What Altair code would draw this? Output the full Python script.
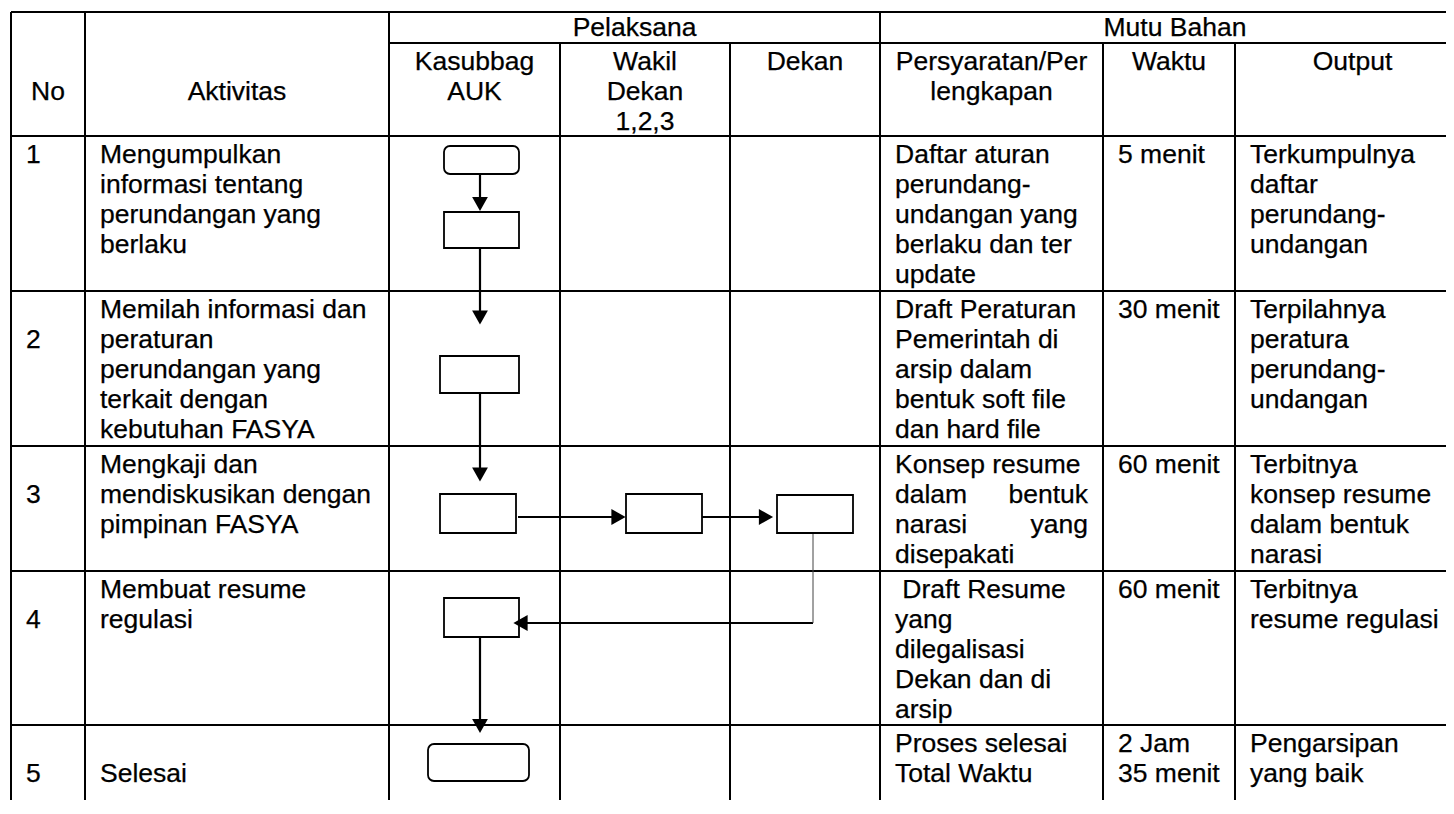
import altair as alt
import pandas as pd

# ------------------------------------------------------------------ content
header_top = ["Pelaksana", "Mutu Bahan"]
header_cols = [
    ["No"], ["Aktivitas"], ["Kasubbag", "AUK"], ["Wakil", "Dekan", "1,2,3"],
    ["Dekan"], ["Persyaratan/Per", "lengkapan"], ["Waktu"], ["Output"],
]
nomor = ["1", "2", "3", "4", "5"]
aktivitas = [
    ["Mengumpulkan", "informasi tentang", "perundangan yang", "berlaku"],
    ["Memilah informasi dan", "peraturan", "perundangan yang", "terkait dengan", "kebutuhan FASYA"],
    ["Mengkaji dan", "mendiskusikan dengan", "pimpinan FASYA"],
    ["Membuat resume", "regulasi"],
    ["", "Selesai"],
]
persyaratan = [
    ["Daftar aturan", "perundang-", "undangan yang", "berlaku dan ter", "update"],
    ["Draft Peraturan", "Pemerintah di", "arsip dalam", "bentuk soft file", "dan hard file"],
    ["Konsep resume", "dalam bentuk", "narasi yang", "disepakati"],
    ["\u200b\u00a0Draft Resume", "yang", "dilegalisasi", "Dekan dan di", "arsip"],
    ["Proses selesai", "Total Waktu"],
]
justified = [(2, 1), (2, 2)]          # (row, line) of justified lines in Persyaratan
waktu = [["5 menit"], ["30 menit"], ["60 menit"], ["60 menit"], ["2 Jam", "35 menit"]]
output = [
    ["Terkumpulnya", "daftar", "perundang-", "undangan"],
    ["Terpilahnya", "peratura", "perundang-", "undangan"],
    ["Terbitnya", "konsep resume", "dalam bentuk", "narasi"],
    ["Terbitnya", "resume regulasi"],
    ["Pengarsipan", "yang baik"],
]
nomor_line = [0, 1, 1, 1, 1]

# flowchart: boxes (x0, x1, y0, y1, rounded), connectors, arrow heads
boxes = [
    (444, 519, 146, 174, True), (444, 519, 212, 248, False), (440, 519, 356, 393, False),
    (440, 516, 494, 533, False), (626, 702, 494, 533, False), (777, 853, 495, 533, False),
    (444, 519, 598, 637, False), (428, 529, 744, 781, True),
]
connectors = [
    (480, 174, 480, 200, 2), (480, 248, 480, 312, 2), (480, 393, 480, 469, 2),
    (518, 517, 613, 517, 2), (702, 517, 761, 517, 2), (813, 533, 813, 623, 1),
    (813, 623, 527, 623, 2), (480, 637, 480, 721, 2),
]
heads = [
    (480, 204, "down"), (480, 317.5, "down"), (480, 474.5, "down"), (618.5, 517, "right"),
    (766, 517, "right"), (520.5, 623, "left"), (480, 726, "down"),
]

# ------------------------------------------------------------------ layout
COL = [11, 85, 389, 560, 730, 880, 1103, 1235, 1470]
ROW = [12, 43, 136, 291, 446, 571, 725, 830]
PAD = 15
FIRST = 27
PITCH = 30
FONT = "Liberation Sans"
FS = 26.5

# grid lines
hl = [(COL[0], COL[-1], ROW[0]), (COL[2], COL[-1], ROW[1])]
hl += [(COL[0], COL[-1], r) for r in ROW[2:-1]]
vl = [(c, ROW[0], ROW[-1]) for c in (COL[0], COL[1], COL[2], COL[5])]
vl += [(c, ROW[1], ROW[-1]) for c in (COL[3], COL[4], COL[6], COL[7])]
grid = pd.DataFrame(
    [dict(x=a, x2=b, y=y, y2=y) for a, b, y in hl] + [dict(x=x, x2=x, y=a, y2=b) for x, a, b in vl]
)

texts = []
def add(t, x, y, al):
    texts.append(dict(t=t, x=x, y=y, al=al))

# header
add(header_top[0], (COL[2] + COL[5]) / 2, ROW[0] + 24, "center")
add(header_top[1], (COL[5] + COL[-1]) / 2, ROW[0] + 24, "center")
for i, lines in enumerate(header_cols):
    cx = (COL[i] + COL[i + 1]) / 2
    start = 1 if i < 2 else 0
    for k, t in enumerate(lines):
        add(t, cx, ROW[1] + FIRST + PITCH * (k + start), "center")

# body
for r in range(5):
    top = ROW[r + 2]
    add(nomor[r], COL[0] + PAD, top + FIRST + PITCH * nomor_line[r], "left")
    for col, cells in ((1, aktivitas), (5, persyaratan), (6, waktu), (7, output)):
        for k, t in enumerate(cells[r]):
            y = top + FIRST + PITCH * k
            if col == 5 and (r, k) in justified:
                w = t.split(" ")
                add(w[0], COL[col] + PAD, y, "left")
                add(w[-1], COL[col + 1] - PAD, y, "right")
            elif t:
                add(t, COL[col] + PAD, y, "left")
tx = pd.DataFrame(texts)

bx = pd.DataFrame([dict(x=a, x2=b, y=c, y2=d, rounded=r) for a, b, c, d, r in boxes])
cn = pd.DataFrame([dict(x=a, y=b, x2=c, y2=d, w=w) for a, b, c, d, w in connectors])
hd = pd.DataFrame([dict(x=x, y=y, dir=d) for x, y, d in heads])

# ------------------------------------------------------------------ chart
W, H = 1438, 792
xs = alt.Scale(domain=[8, 8 + W])
ys = alt.Scale(domain=[8, 8 + H], reverse=True)
X = lambda f="x": alt.X(f"{f}:Q", scale=xs, axis=None)
Y = lambda f="y": alt.Y(f"{f}:Q", scale=ys, axis=None)

grid_l = alt.Chart(grid).mark_rule(color="black", strokeWidth=2).encode(
    x=X(), x2="x2:Q", y=Y(), y2="y2:Q")
thick = alt.Chart(cn[cn["w"] == 2]).mark_rule(color="black", strokeWidth=2.2).encode(
    x=X(), x2="x2:Q", y=Y(), y2="y2:Q")
thin = alt.Chart(cn[cn["w"] == 1]).mark_rule(color="#444444", strokeWidth=1).encode(
    x=X(), x2="x2:Q", y=Y(), y2="y2:Q")
sq = alt.Chart(bx[~bx["rounded"]]).mark_rect(fill="white", stroke="black", strokeWidth=1.8).encode(
    x=X(), x2="x2:Q", y=Y(), y2="y2:Q")
rd = alt.Chart(bx[bx["rounded"]]).mark_rect(fill="white", stroke="black", strokeWidth=1.8,
                                            cornerRadius=6).encode(
    x=X(), x2="x2:Q", y=Y(), y2="y2:Q")
arrows = alt.Chart(hd).mark_point(filled=True, color="black", opacity=1, size=250,
                                  strokeWidth=0).encode(
    x=X(), y=Y(),
    shape=alt.Shape("dir:N", legend=None, scale=alt.Scale(
        domain=["down", "right", "left"],
        range=["M-1,-0.9L1,-0.9L0,0.9Z", "M-0.9,-1L0.9,0L-0.9,1Z", "M0.9,-1L-0.9,0L0.9,1Z"])))

def text_layer(al):
    return alt.Chart(tx[tx["al"] == al]).mark_text(
        align=al, baseline="alphabetic", font=FONT, fontSize=FS, color="black",
        stroke="black", strokeWidth=0.25).encode(
        x=X(), y=Y(), text="t:N")

chart = alt.layer(
    grid_l, thick, thin, sq, rd, arrows,
    text_layer("left"), text_layer("center"), text_layer("right"),
).properties(
    width=W, height=H, padding=0, autosize=alt.AutoSizeParams(type="none"),
    background="white",
).configure_view(stroke=None)

chart.save("out.html", embed_options={"renderer": "svg", "actions": False})
